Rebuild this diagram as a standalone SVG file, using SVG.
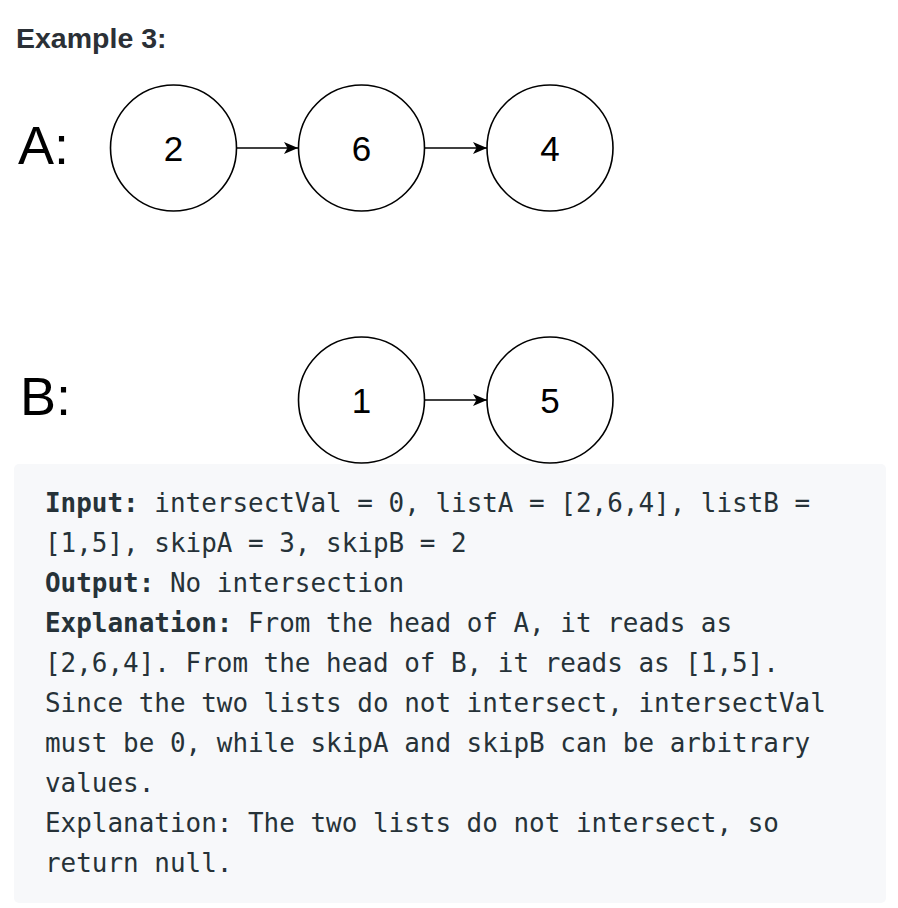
<svg xmlns="http://www.w3.org/2000/svg" width="898" height="908" viewBox="0 0 898 908">
<defs>
<style>
.title{font-family:"Liberation Sans",Arial,sans-serif;font-weight:bold;font-size:28.5px;fill:#2b3036}
.lbl{font-family:"Liberation Sans",Arial,sans-serif;font-size:54px;fill:#000}
.node circle{fill:#fff;stroke:#000;stroke-width:1.6}
.node text{font-family:"Liberation Sans",Arial,sans-serif;font-size:35px;fill:#000;text-anchor:middle}
.edge{stroke:#000;stroke-width:1.6;fill:none}
.code{font-family:"DejaVu Sans Mono","Liberation Mono",monospace;font-size:25.95px;fill:#263238}
.code .b{font-weight:bold}
</style>
<marker id="arr" markerWidth="16" markerHeight="14" refX="14" refY="7" orient="auto" markerUnits="userSpaceOnUse">
<path d="M0,1 L14,7 L0,13 L3.5,7 Z" fill="#000"/>
</marker>
</defs>
<rect width="898" height="908" fill="#fff"/>
<text class="title" x="16" y="48">Example 3:</text>
<text class="lbl" x="18" y="164">A:</text>
<text class="lbl" x="20" y="415">B:</text>
<g id="connectors">
<line class="edge" x1="237" y1="148" x2="298" y2="148" marker-end="url(#arr)"/>
<line class="edge" x1="425" y1="148" x2="487" y2="148" marker-end="url(#arr)"/>
<line class="edge" x1="425" y1="400" x2="487" y2="400" marker-end="url(#arr)"/>
</g>
<g id="nodeA2" class="node"><circle cx="173.5" cy="148" r="63"/><text x="173.5" y="161">2</text></g>
<g id="nodeA6" class="node"><circle cx="361.5" cy="148" r="63"/><text x="361.5" y="161">6</text></g>
<g id="nodeA4" class="node"><circle cx="550" cy="148" r="63"/><text x="550" y="161">4</text></g>
<g id="nodeB1" class="node"><circle cx="361.5" cy="400" r="63"/><text x="361.5" y="413">1</text></g>
<g id="nodeB5" class="node"><circle cx="550" cy="400" r="63"/><text x="550" y="413">5</text></g>
<rect x="14" y="464" width="872" height="439" rx="5" fill="#f7f8fa"/>
<g class="code">
<text x="45" y="512"><tspan class="b">Input:</tspan> intersectVal = 0, listA = [2,6,4], listB =</text>
<text x="45" y="552">[1,5], skipA = 3, skipB = 2</text>
<text x="45" y="592"><tspan class="b">Output:</tspan> No intersection</text>
<text x="45" y="632"><tspan class="b">Explanation:</tspan> From the head of A, it reads as</text>
<text x="45" y="672">[2,6,4]. From the head of B, it reads as [1,5].</text>
<text x="45" y="712">Since the two lists do not intersect, intersectVal</text>
<text x="45" y="752">must be 0, while skipA and skipB can be arbitrary</text>
<text x="45" y="792">values.</text>
<text x="45" y="832">Explanation: The two lists do not intersect, so</text>
<text x="45" y="872">return null.</text>
</g>
</svg>
